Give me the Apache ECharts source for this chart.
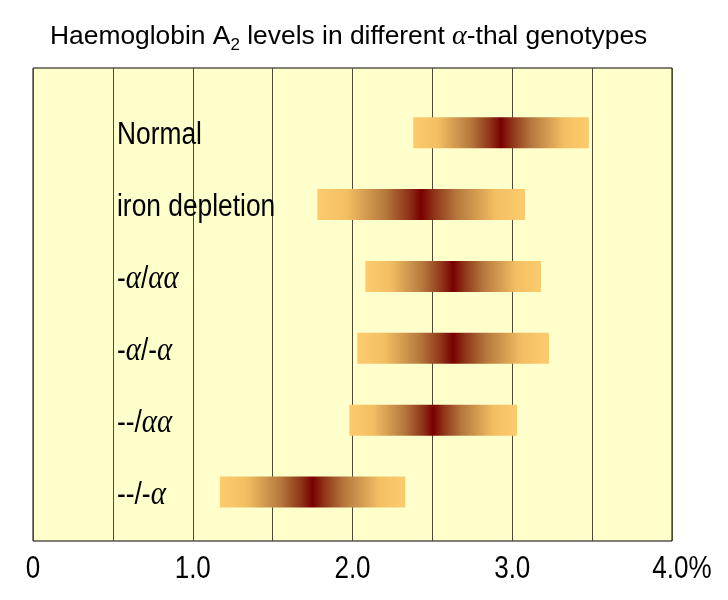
<!DOCTYPE html>
<html>
<head>
<meta charset="utf-8">
<script src="https://cdn.jsdelivr.net/npm/echarts@6/dist/echarts.min.js"></script>
<style>
html,body{margin:0;padding:0;background:#fff;}
#c{width:728px;height:600px;}
</style>
</head>
<body>
<div id="c"></div>
<script>
// ---- data ----
const categories = ['Normal', 'iron depletion', '-α/αα', '-α/-α', '--/αα', '--/-α'];
const lowValues  = [2.38, 1.78, 2.08, 2.03, 1.98, 1.17];
const highValues = [3.48, 3.08, 3.18, 3.23, 3.03, 2.33];
const tickValues = [0, 1, 2, 3, 4];
const tickLabels = ['0', '1.0', '2.0', '3.0', '4.0%'];
const titleText = 'Haemoglobin A{sub|2} levels in different {a|α}-thal genotypes';

const SANS = "'Liberation Sans',Arial,sans-serif";
const SERIF = "'Liberation Serif','Times New Roman',serif";

const chart = echarts.init(document.getElementById('c'), null, {renderer: 'canvas'});

const barData = categories.map((c, i) => [lowValues[i], highValues[i], i]);
const tickData = tickValues.map((v, i) => [v, i]);

function richLabel(s) {
  return s.replace(/α+/g, m => '{a|' + m + '}');
}

const barGradient = () => new echarts.graphic.LinearGradient(0, 0, 1, 0, [
  {offset: 0, color: '#FDCB6C'},
  {offset: 0.14, color: '#F3BF63'},
  {offset: 0.33, color: '#B5773D'},
  {offset: 0.44, color: '#8E3317'},
  {offset: 0.5, color: '#780000'},
  {offset: 0.56, color: '#8E3317'},
  {offset: 0.67, color: '#B5773D'},
  {offset: 0.86, color: '#F3BF63'},
  {offset: 1, color: '#FDCB6C'}
]);

const option = {
  animation: false,
  backgroundColor: '#ffffff',
  title: {
    text: titleText,
    left: 45,
    top: 15,
    textStyle: {
      fontFamily: SANS,
      fontSize: 26.4,
      lineHeight: 34,
      fontWeight: 'normal',
      color: '#000',
      rich: {
        sub: {fontFamily: SANS, fontSize: 17, lineHeight: 17, color: '#000', verticalAlign: 'bottom'},
        a: {fontFamily: SERIF, fontStyle: 'italic', fontSize: 28, lineHeight: 34, color: '#000'}
      }
    }
  },
  grid: {
    left: 33, right: 56, top: 68, bottom: 59,
    show: true,
    backgroundColor: '#FFFFCC',
    borderColor: '#000',
    borderWidth: 1
  },
  xAxis: {
    type: 'value',
    min: 0, max: 4, interval: 0.5,
    axisLine: {show: false},
    axisTick: {show: false},
    axisLabel: {show: false},
    splitLine: {show: true, lineStyle: {color: '#4d4d33', width: 1}}
  },
  yAxis: {
    type: 'value',
    inverse: true,
    min: -0.9, max: 5.68,
    show: false,
    splitLine: {show: false}
  },
  series: [{
    type: 'custom',
    data: barData,
    encode: {x: [0, 1], y: 2},
    renderItem: function (params, api) {
      const idx = api.value(2);
      const s = api.coord([api.value(0), idx]);
      const e = api.coord([api.value(1), idx]);
      const h = 31;
      const origin = api.coord([0, idx]);
      return {
        type: 'group',
        children: [{
          type: 'rect',
          shape: {x: s[0], y: s[1] - h / 2, width: e[0] - s[0], height: h},
          style: {fill: barGradient()}
        }, {
          type: 'text',
          x: origin[0] + 84,
          y: s[1] + 3,
          scaleX: 0.85,
          style: {
            text: richLabel(categories[idx]),
            fontFamily: SANS,
            fontSize: 31,
            fill: '#000',
            align: 'left',
            verticalAlign: 'middle',
            rich: {
              a: {fontFamily: SERIF, fontStyle: 'italic', fontSize: 34, fill: '#000'}
            }
          }
        }]
      };
    }
  }, {
    type: 'custom',
    data: tickData,
    encode: {x: 0},
    clip: false,
    silent: true,
    renderItem: function (params, api) {
      const v = api.value(0);
      const i = api.value(1);
      const p = api.coord([v, 5.68]);
      const t = tickLabels[i];
      const shift = t.indexOf('%') >= 0 ? 10 : 0;
      return {
        type: 'text',
        x: p[0] + shift,
        y: p[1] + 28,
        scaleX: 0.84,
        style: {
          text: t,
          fontFamily: SANS,
          fontSize: 31,
          fill: '#000',
          align: 'center',
          verticalAlign: 'middle'
        }
      };
    }
  }]
};

chart.setOption(option);
</script>
</body>
</html>
